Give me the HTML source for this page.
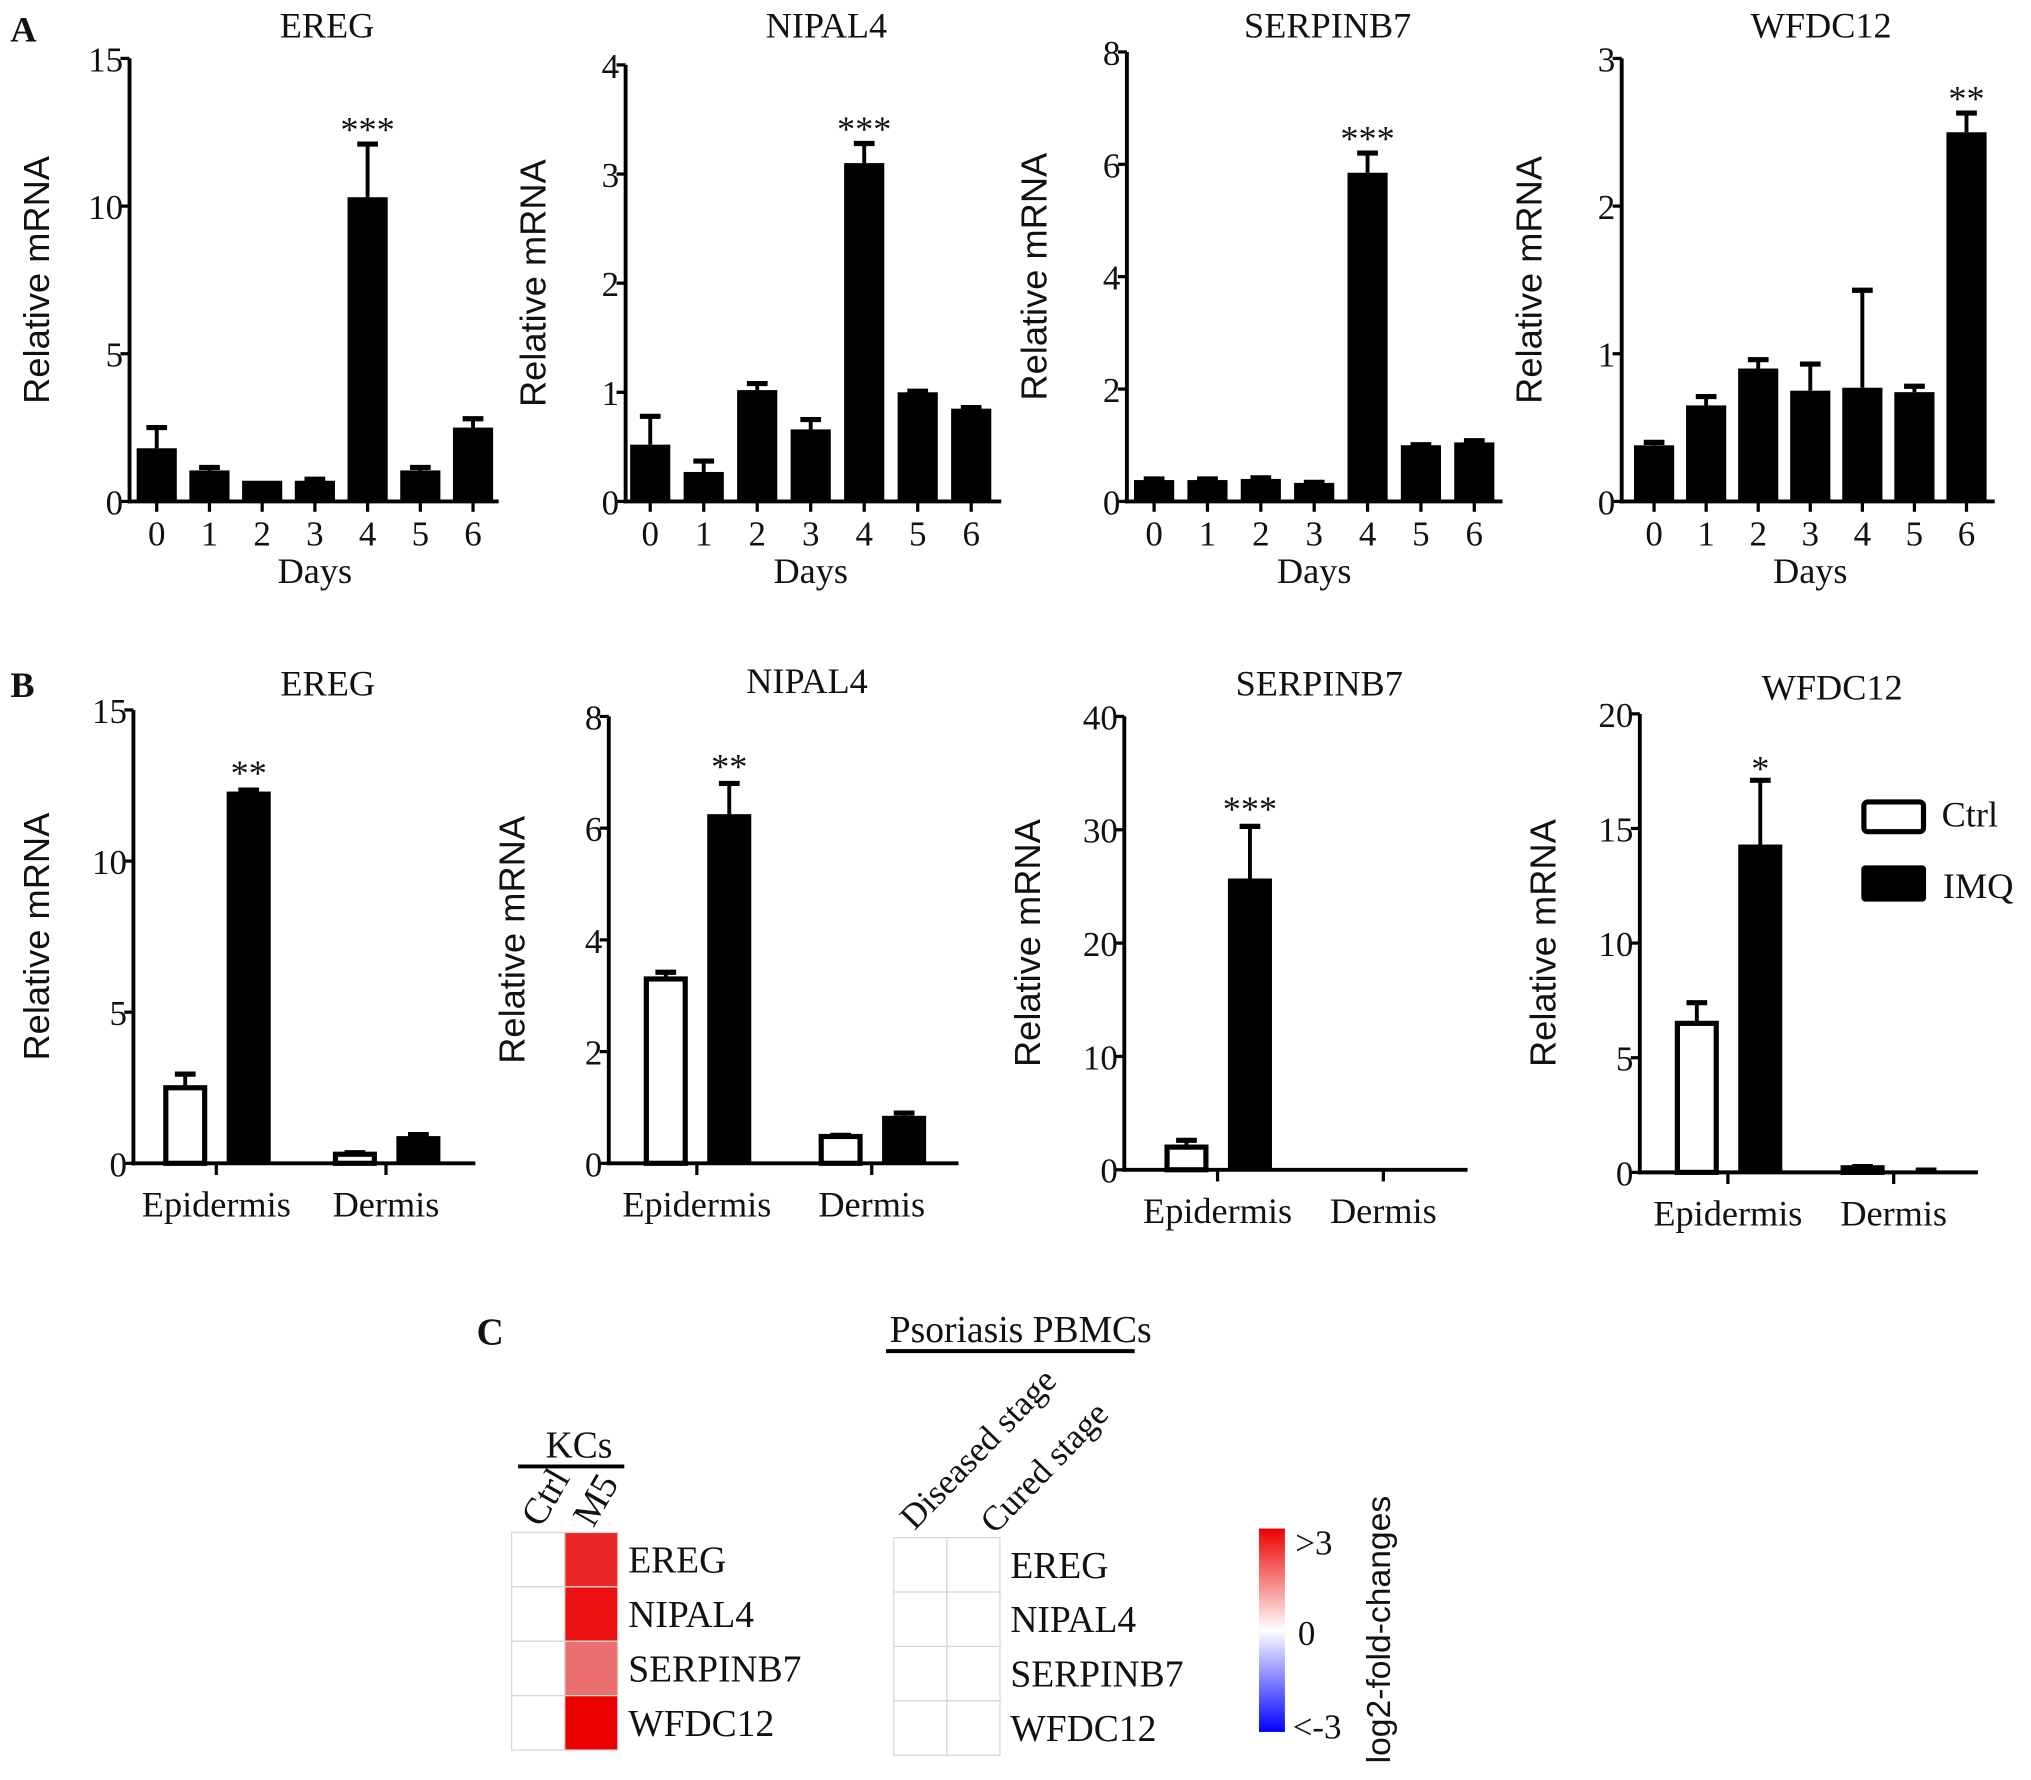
<!DOCTYPE html>
<html><head><meta charset="utf-8"><style>
html,body{margin:0;padding:0;background:#fff;}
svg{display:block;}
text{font-family:"Liberation Serif",serif;fill:#111;}
.sans{font-family:"Liberation Sans",sans-serif;}
</style></head><body>
<svg id="fig" width="2031" height="1780" viewBox="0 0 1568 1374" xmlns="http://www.w3.org/2000/svg">
<text x="8" y="32" font-size="28" font-weight="bold">A</text>
<text x="8" y="538" font-size="28" font-weight="bold">B</text>
<text x="368" y="1038" font-size="29" font-weight="bold">C</text>
<g id="charts"></g>
<g id="heat"></g>
</svg>
<script>
// Panel A data
const daysCats = ['0','1','2','3','4','5','6'];
const aEregVals = [1.8,1.05,0.7,0.7,10.3,1.05,2.5];
const aEregErr = [2.5,1.15,0.7,0.75,12.1,1.15,2.8];
const aNipal4Vals = [0.52,0.27,1.02,0.66,3.1,1.0,0.85];
const aNipal4Err = [0.78,0.37,1.08,0.75,3.28,1.01,0.86];
const aSerpinb7Vals = [0.38,0.38,0.4,0.33,5.85,1.0,1.05];
const aSerpinb7Err = [0.4,0.4,0.42,0.34,6.2,1.01,1.08];
const aWfdc12Vals = [0.38,0.65,0.9,0.75,0.77,0.74,2.5];
const aWfdc12Err = [0.4,0.71,0.96,0.93,1.43,0.78,2.63];
// Panel B data (Ctrl/IMQ x Epidermis/Dermis)
const tissueCats = ['Epidermis','Dermis'];
const bEregCtrl = [2.5,0.3], bEregCtrlErr=[2.95,0.35], bEregImq=[12.3,0.9], bEregImqErr=[12.35,0.95];
const bNipal4Ctrl = [3.3,0.48], bNipal4CtrlErr=[3.42,0.5], bNipal4Imq=[6.25,0.85], bNipal4ImqErr=[6.8,0.9];
const bSerpCtrl = [2.0,0], bSerpCtrlErr=[2.6,0], bSerpImq=[25.7,0], bSerpImqErr=[30.3,0];
const bWfdcCtrl = [6.5,0.2], bWfdcCtrlErr=[7.4,0.25], bWfdcImq=[14.3,0.08], bWfdcImqErr=[17.1,0.1];
// Heatmap data
const heatGenes = ['EREG','NIPAL4','SERPINB7','WFDC12'];
const kcCols = ['Ctrl','M5'];
const kcValues = [[0,2.5],[0,2.8],[0,1.6],[0,3]];
const pbmcCols = ['Diseased stage','Cured stage'];
const pbmcValues = [[0,0],[0,0],[0,0],[0,0]];

const NS='http://www.w3.org/2000/svg';
const root=document.getElementById('charts');
function mk(tag,attrs,parent){const e=document.createElementNS(NS,tag);for(const k in attrs)e.setAttribute(k,attrs[k]);(parent||root).appendChild(e);return e;}
function txt(s,x,y,size,anchor,parent,cls){const t=mk('text',{x:x,y:y,'font-size':size,'text-anchor':anchor||'middle'},parent);if(cls)t.setAttribute('class',cls);t.textContent=s;return t;}

function axisY(g,ax,top,bot,max,step,x1){
  const sy=v=>bot-(v/max)*(bot-top);
  mk('line',{x1:ax,y1:top,x2:ax,y2:bot+1.5,stroke:'#000','stroke-width':3},g);
  mk('line',{x1:ax-1.5,y1:bot,x2:x1,y2:bot,stroke:'#000','stroke-width':3},g);
  for(let v=0;v<=max+1e-9;v+=step){
    mk('line',{x1:ax-7,y1:sy(v),x2:ax,y2:sy(v),stroke:'#000','stroke-width':2.5},g);
    const t=txt(String(v),ax-5,sy(v)+10,27,'end',g);
    
  }
  return sy;
}
function bar(g,cx,w,v,e,sy,bot,filled,name){
  const y=sy(v);
  if(e>v+0.0001){
    mk('line',{x1:cx,y1:sy(e),x2:cx,y2:y,stroke:'#000','stroke-width':3},g);
    mk('line',{x1:cx-8,y1:sy(e),x2:cx+8,y2:sy(e),stroke:'#000','stroke-width':4},g);
  }
  const r=filled?mk('rect',{x:cx-w/2,y:y,width:w,height:Math.max(bot-y,0),fill:'#000'},g)
    :mk('rect',{x:cx-w/2+2,y:y,width:w-4,height:Math.max(bot-y,0),fill:'#fff',stroke:'#000','stroke-width':4},g);
  
}

const aCharts=[
 {n:'EREG',ax:100,top:45,x1:385,max:15,step:5,x0:121,dx:40.7,v:aEregVals,e:aEregErr,star:'***',si:4},
 {n:'NIPAL4',ax:483,top:50,x1:773,max:4,step:1,x0:502,dx:41.3,v:aNipal4Vals,e:aNipal4Err,star:'***',si:4},
 {n:'SERPINB7',ax:870,top:40,x1:1160,max:8,step:2,x0:891,dx:41.2,v:aSerpinb7Vals,e:aSerpinb7Err,star:'***',si:4},
 {n:'WFDC12',ax:1252,top:45,x1:1540,max:3,step:1,x0:1277,dx:40.2,v:aWfdc12Vals,e:aWfdc12Err,star:'**',si:6}
];
aCharts.forEach(c=>{
  const g=mk('g',{});
  
  const bot=387;
  const sy=axisY(g,c.ax,c.top,bot,c.max,c.step,c.x1);
  const t=txt(c.n,(c.ax+c.x1)/2+10,29,28,'middle',g);
  const yl=txt('Relative mRNA',0,0,28,'middle',g,'sans');yl.setAttribute('transform','translate('+(c.ax-62)+','+((c.top+bot)/2)+') rotate(-90)');
  
  daysCats.forEach((d,i)=>{
    const cx=c.x0+i*c.dx;
    bar(g,cx,31,c.v[i],c.e[i],sy,bot,true,'bar-day-'+d);
    mk('line',{x1:cx,y1:bot,x2:cx,y2:bot+8,stroke:'#000','stroke-width':2.5},g);
    const tl=txt(d,cx,bot+34,27,'middle',g);
  });
  const xl=txt('Days',(c.x0+c.x0+6*c.dx)/2,450,28,'middle',g);
  const si=c.x0+c.si*c.dx;
  const st=txt(c.star,si,sy(c.e[c.si])-2,28,'middle',g);
});

const bCharts=[
 {n:'EREG',ax:103,top:548,bot:898,x1:367,max:15,step:5,g:[167,298],ctrl:bEregCtrl,ce:bEregCtrlErr,imq:bEregImq,ie:bEregImqErr,star:'**',ty:527},
 {n:'NIPAL4',ax:470,top:553,bot:898,x1:740,max:8,step:2,g:[538,673],ctrl:bNipal4Ctrl,ce:bNipal4CtrlErr,imq:bNipal4Imq,ie:bNipal4ImqErr,star:'**',ty:525},
 {n:'SERPINB7',ax:868,top:553,bot:903,x1:1133,max:40,step:10,g:[940,1068],ctrl:bSerpCtrl,ce:bSerpCtrlErr,imq:bSerpImq,ie:bSerpImqErr,star:'***',ty:527},
 {n:'WFDC12',ax:1266,top:551,bot:905,x1:1527,max:20,step:5,g:[1334,1462],ctrl:bWfdcCtrl,ce:bWfdcCtrlErr,imq:bWfdcImq,ie:bWfdcImqErr,star:'*',ty:530}
];
bCharts.forEach(c=>{
  const g=mk('g',{});
  
  const sy=axisY(g,c.ax,c.top,c.bot,c.max,c.step,c.x1);
  const t=txt(c.n,(c.ax+c.x1)/2+18,c.ty+10,28,'middle',g);
  const yl=txt('Relative mRNA',0,0,28,'middle',g,'sans');yl.setAttribute('transform','translate('+(c.ax-65)+','+((c.top+c.bot)/2)+') rotate(-90)');
  
  tissueCats.forEach((d,i)=>{
    const gx=c.g[i];
    bar(g,gx-24,34,c.ctrl[i],c.ce[i],sy,c.bot,false,'bar-ctrl-'+d.toLowerCase());
    bar(g,gx+25,34,c.imq[i],c.ie[i],sy,c.bot,true,'bar-imq-'+d.toLowerCase());
    mk('line',{x1:gx,y1:c.bot,x2:gx,y2:c.bot+9,stroke:'#000','stroke-width':2.5},g);
    const tl=txt(d,gx,c.bot+41,28,'middle',g);
  });
  const st=txt(c.star,c.g[0]+25,sy(c.ie[0])-4+(c.star==='*'?4:0),28,'middle',g);
});
// legend
const lg=mk('g',{});
const l1=mk('rect',{x:1439,y:619,width:46,height:23,fill:'#fff',stroke:'#000','stroke-width':4,rx:3},lg);
const l2=mk('rect',{x:1437,y:668,width:50,height:28,fill:'#000',rx:3},lg);
const lt1=txt('Ctrl',1499,638,28,'start',lg);
const lt2=txt('IMQ',1500,693,28,'start',lg);

// heatmap
const hg=document.getElementById('heat');
function color(v){const t=Math.max(-1,Math.min(1,v/3));
  if(t>=0){const k=Math.round(255*(1-t));return 'rgb(236,'+Math.round(k*0.93+0)+','+Math.round(k*0.93)+')';}
  const k=Math.round(255*(1+t));return 'rgb('+k+','+k+',255)';}
function heat(x0,y0,cw,rh,vals,name,labx){
  const g=mk('g',{},hg);
  vals.forEach((row,r)=>{row.forEach((v,c)=>{
    const rc=mk('rect',{x:x0+c*cw,y:y0+r*rh,width:cw,height:rh,fill:v===0?'#fff':color(v),stroke:'#d8d8d8','stroke-width':1},g);
    
  });
  const t=txt(heatGenes[r],labx,y0+r*rh+rh/2+10,29,'start',g);});
  return g;
}
heat(395,1183,41,42,kcValues,'heatmap-kcs',485);
heat(690,1187,41,42,pbmcValues,'heatmap-pbmcs',780);
let t;
t=txt('KCs',447,1125,29,'middle',hg);
mk('line',{x1:400,y1:1132,x2:482,y2:1132,stroke:'#000','stroke-width':3},hg);
kcCols.forEach((c,i)=>{const tt=txt(c,0,0,29,'start',hg);tt.setAttribute('transform','translate('+(418+i*40)+',1180) rotate(-60)');});
t=txt('Psoriasis PBMCs',788,1036,29,'middle',hg);
mk('line',{x1:684,y1:1043,x2:876,y2:1043,stroke:'#000','stroke-width':3},hg);
pbmcCols.forEach((c,i)=>{const tt=txt(c,0,0,27,'start',hg);tt.setAttribute('transform','translate('+(706+i*62)+','+(1182+i*3)+') rotate(-46)');});
// colorbar
const defs=mk('defs',{},hg);const lgr=mk('linearGradient',{id:'cb',x1:0,y1:0,x2:0,y2:1},defs);
mk('stop',{offset:'0','stop-color':'#ec0000'},lgr);mk('stop',{offset:'0.5','stop-color':'#ffffff'},lgr);mk('stop',{offset:'1','stop-color':'#0000ff'},lgr);
const cb=mk('rect',{x:972,y:1180,width:20,height:157,fill:'url(#cb)'},hg);
t=txt('>3',1000,1200,27,'start',hg);
t=txt('0',1002,1270,27,'start',hg);
t=txt('<-3',998,1342,27,'start',hg);
t=txt('log2-fold-changes',0,0,26,'middle',hg,'sans');t.setAttribute('transform','translate(1073,1258) rotate(-90)');
</script>
</body></html>
